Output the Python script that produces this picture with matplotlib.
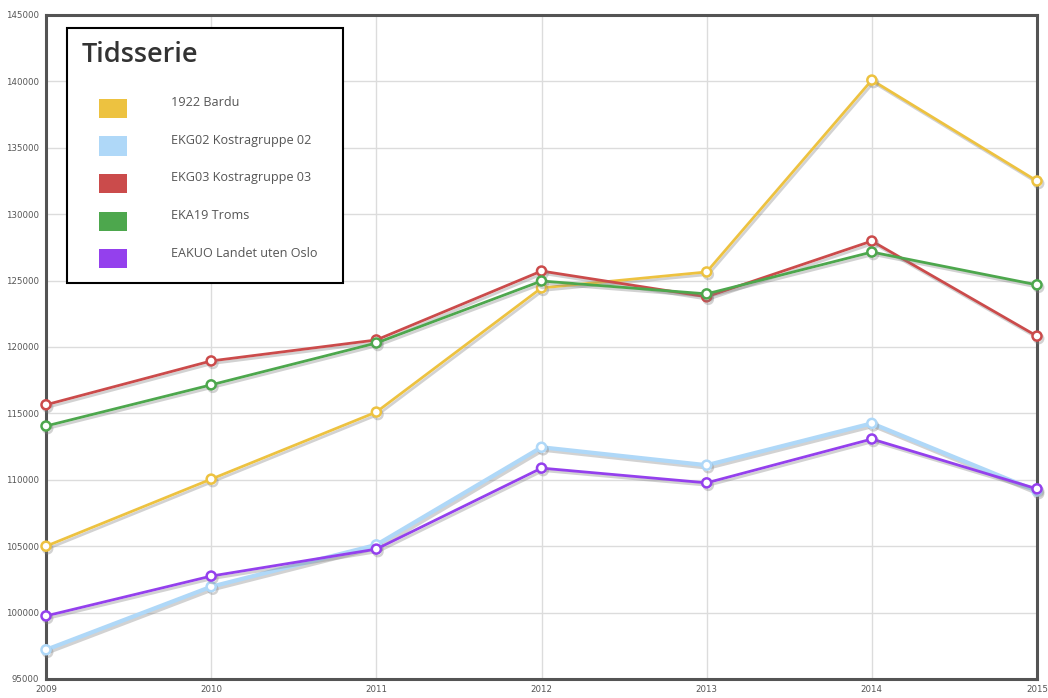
import matplotlib
matplotlib.use("Agg")
import matplotlib.pyplot as plt
import matplotlib.patheffects as pe
from matplotlib.patches import Rectangle

years = [2009, 2010, 2011, 2012, 2013, 2014, 2015]
series_names = [
    "1922 Bardu",
    "EKG02 Kostragruppe 02",
    "EKG03 Kostragruppe 03",
    "EKA19 Troms",
    "EAKUO Landet uten Oslo",
]
bardu = [105000, 110050, 115100, 124450, 125650, 140100, 132500]
ekg02 = [97200, 101950, 105100, 112450, 111100, 114250, 109150]
ekg03 = [115650, 118950, 120530, 125720, 123780, 127980, 120820]
eka19 = [114050, 117150, 120300, 124970, 124000, 127150, 124680]
eakuo = [99750, 102750, 104780, 110880, 109770, 113070, 109320]
values = [bardu, ekg02, ekg03, eka19, eakuo]
colors = ["#EDC240", "#AFD8F8", "#CB4B4B", "#4DA74D", "#9440ED"]
widths = [2.0, 3.0, 2.0, 2.0, 2.0]

y_ticks = list(range(95000, 145001, 5000))

fig = plt.figure(figsize=(10.48, 6.98), dpi=100)
ax = fig.add_axes([46 / 1048, 1 - 679 / 698, 991 / 1048, 664 / 698])

shadow = [pe.SimpleLineShadow(offset=(1.2, -1.8), shadow_color="#808080", alpha=0.35),
          pe.Normal()]
for vals, col, lw in zip(values, colors, widths):
    ax.plot(years, vals, color=col, lw=lw, marker="o", markersize=6.5,
            markerfacecolor="white", markeredgecolor=col, markeredgewidth=1.8,
            clip_on=False, zorder=3, path_effects=shadow)

ax.set_xlim(2009, 2015)
ax.set_ylim(95000, 145000)
ax.set_xticks(years)
ax.set_yticks(y_ticks)
ax.set_xticklabels([str(y) for y in years])
ax.set_yticklabels([str(v) for v in y_ticks])
ax.tick_params(axis="both", length=0, labelsize=6.2, labelcolor="#555555")
ax.tick_params(axis="y", pad=5)
ax.tick_params(axis="x", pad=4)
ax.grid(True, color="#dcdcdc", lw=1.0)
ax.set_axisbelow(True)
for s in ax.spines.values():
    s.set_color("#545454")
    s.set_linewidth(2.2)
    s.set_zorder(2)

# Legend panel
def fx(px):
    return px / 1048

def fy(py):
    return 1 - py / 698

fig.patches.append(Rectangle((fx(67), fy(283)), fx(343) - fx(67), fy(28) - fy(283),
                             transform=fig.transFigure, facecolor="white",
                             edgecolor="black", lw=1.5, zorder=5))
fig.text(fx(82), fy(55), "Tidsserie", fontsize=19.5, fontweight="semibold",
         family="Open Sans", color="#333333", va="center", ha="left", zorder=6)
row_tops = [99, 136.5, 174, 211.5, 249]
for name, col, top in zip(series_names, colors, row_tops):
    fig.patches.append(Rectangle((fx(99), fy(top + 19)), fx(127) - fx(99), 19 / 698,
                                 transform=fig.transFigure, facecolor=col,
                                 edgecolor="none", zorder=6))
    fig.text(fx(171), fy(top + 4), name, fontsize=9.1, family="Open Sans",
             color="#555555", va="center", ha="left", zorder=6)

fig.savefig("out.png", dpi=100)
